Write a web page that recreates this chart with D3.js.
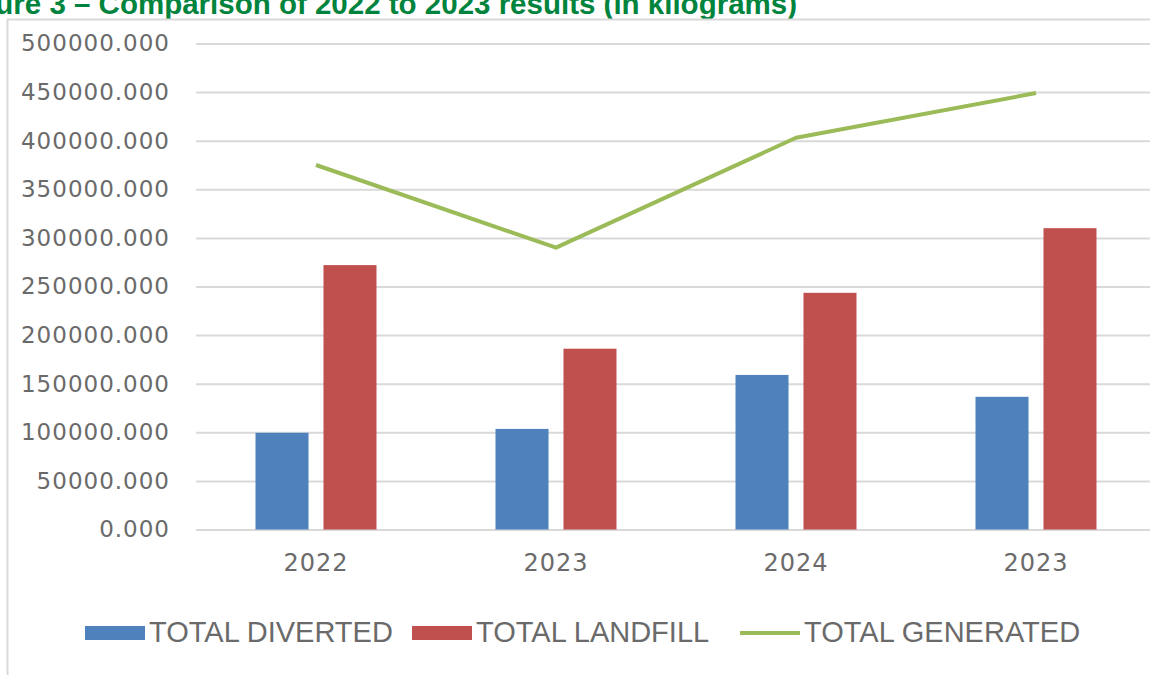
<!DOCTYPE html>
<html>
<head>
<meta charset="utf-8">
<script src="https://cdn.jsdelivr.net/npm/d3@7"></script>
<style>
  html, body { margin: 0; padding: 0; background: #fff; overflow: hidden; }
</style>
</head>
<body>
<div id="chart"></div>
<script>
// data (kilograms)
var years = ["2022", "2023", "2024", "2023"];
var diverted = [99500, 103500, 159000, 136500];
var landfill = [272000, 186000, 243500, 310000];
var generated = [375000, 290000, 403000, 449000];
var yTicks = [0, 50000, 100000, 150000, 200000, 250000, 300000, 350000, 400000, 450000, 500000];
var seriesNames = ["TOTAL DIVERTED", "TOTAL LANDFILL", "TOTAL GENERATED"];
var colors = ["#4F81BD", "#C0504D", "#9BBB59"];

function drawChart() {
    var w = 1150;
    var h = 675;

    var svg = d3.select("#chart")
        .append("svg")
        .attr("width", w)
        .attr("height", h);

    // title, cut off at the top like in the source document
    svg.append("text")
        .attr("x", 797)
        .attr("y", 14)
        .attr("text-anchor", "end")
        .attr("font-family", "Liberation Sans, Arial, sans-serif")
        .attr("font-weight", "bold")
        .attr("font-size", "29.5px")
        .attr("fill", "#00843D")
        .text("Figure 3 \u2013 Comparison of 2022 to 2023 results (in kilograms)");

    // chart frame
    svg.append("rect")
        .attr("x", 7.5)
        .attr("y", 19.5)
        .attr("width", 1170)
        .attr("height", 700)
        .attr("fill", "#fff")
        .attr("stroke", "#d9d9d9")
        .attr("stroke-width", 2);

    var x = d3.scaleBand()
        .domain(d3.range(years.length))
        .range([196, 1156]);

    var xSub = d3.scaleBand()
        .domain([0, 1])
        .range([0, 121])
        .paddingInner(0.22);

    var y = d3.scaleLinear()
        .domain([0, 500000])
        .range([529.5, 43.5]);

    // gridlines + y labels
    var yAxis = d3.axisLeft(y)
        .tickValues(yTicks)
        .tickSize(-(w - 196))
        .tickPadding(26)
        .tickFormat(d3.format(".3f"));

    var gy = svg.append("g")
        .attr("transform", "translate(196,0)")
        .call(yAxis);
    gy.select(".domain").remove();
    gy.selectAll(".tick line")
        .attr("stroke", "#d9d9d9")
        .attr("stroke-width", 2);
    gy.selectAll(".tick text")
        .attr("font-family", "DejaVu Sans, sans-serif")
        .attr("font-size", "23px")
        .attr("letter-spacing", "1px")
        .attr("fill", "#6a6a6a");

    // x labels
    var xAxis = d3.axisBottom(x)
        .tickSize(0)
        .tickPadding(24)
        .tickFormat(function(i) { return years[i]; });

    var gx = svg.append("g")
        .attr("transform", "translate(0,529.5)")
        .call(xAxis);
    gx.select(".domain").remove();
    gx.selectAll(".tick text")
        .attr("font-family", "DejaVu Sans, sans-serif")
        .attr("font-size", "24px")
        .attr("letter-spacing", "1px")
        .attr("fill", "#6a6a6a");

    // bars
    var groupOffset = (x.bandwidth() - 121) / 2;
    [diverted, landfill].forEach(function(series, s) {
        svg.append("g")
            .selectAll("rect")
            .data(series)
            .enter()
            .append("rect")
            .attr("x", function(d, i) { return x(i) + groupOffset + xSub(s); })
            .attr("y", function(d) { return y(d); })
            .attr("width", xSub.bandwidth())
            .attr("height", function(d) { return y(0) - y(d); })
            .attr("fill", colors[s]);
    });

    // total generated line
    var line = d3.line()
        .x(function(d, i) { return x(i) + x.bandwidth() / 2; })
        .y(function(d) { return y(d); });

    svg.append("path")
        .datum(generated)
        .attr("d", line)
        .attr("fill", "none")
        .attr("stroke", colors[2])
        .attr("stroke-width", 4)
        .attr("stroke-linejoin", "round");

    // legend
    var legendX = [85, 412, 740];
    var legend = svg.append("g");
    seriesNames.forEach(function(name, i) {
        if (i < 2) {
            legend.append("rect")
                .attr("x", legendX[i])
                .attr("y", 626)
                .attr("width", 60)
                .attr("height", 14)
                .attr("fill", colors[i]);
        } else {
            legend.append("line")
                .attr("x1", legendX[i])
                .attr("x2", legendX[i] + 60)
                .attr("y1", 633)
                .attr("y2", 633)
                .attr("stroke", colors[i])
                .attr("stroke-width", 4);
        }
        legend.append("text")
            .attr("x", legendX[i] + 64)
            .attr("y", 642)
            .attr("font-family", "Liberation Sans, Arial, sans-serif")
            .attr("font-size", "29px")
            .attr("fill", "#6a6a6a")
            .text(name);
    });
}

drawChart();
</script>
</body>
</html>
